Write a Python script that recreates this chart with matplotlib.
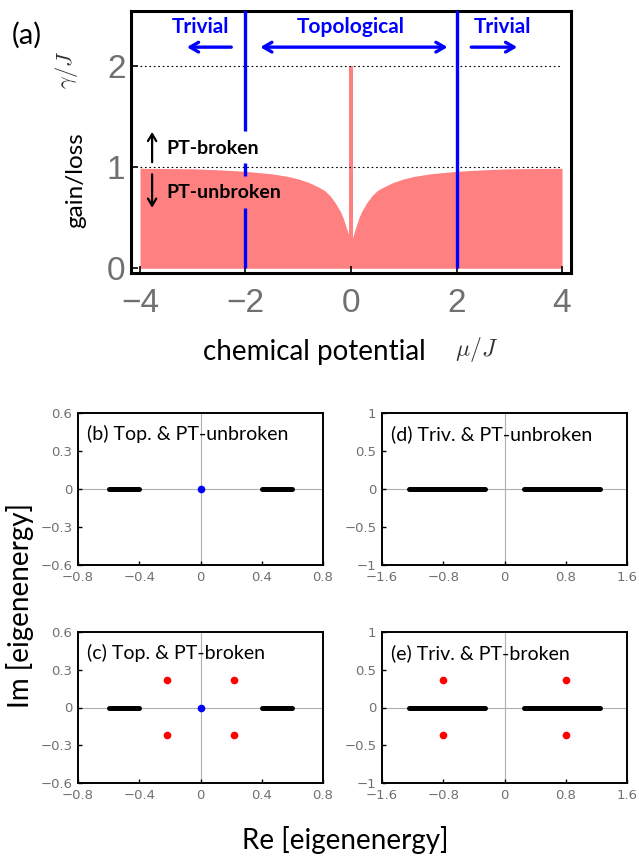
import matplotlib.pyplot as plt
import matplotlib as mpl

# ---- data ----
# PT-breaking threshold gamma_c(mu)
mu_edge = [-4.0, -3.0, -2.5, -2.0, -1.5, -1.2, -1.0, -0.8, -0.6, -0.5, -0.4,
           -0.3, -0.2, -0.15, -0.1, -0.05, -0.03, 0.0, 0.03, 0.05, 0.1, 0.15,
           0.2, 0.3, 0.4, 0.5, 0.6, 0.8, 1.0, 1.2, 1.5, 2.0, 2.5, 3.0, 4.0]
gamma_c = [0.99, 0.985, 0.975, 0.96, 0.935, 0.91, 0.885, 0.85, 0.80, 0.77, 0.72,
           0.65, 0.56, 0.50, 0.42, 0.34, 0.30, 0.27, 0.30, 0.34, 0.42, 0.50,
           0.56, 0.65, 0.72, 0.77, 0.80, 0.85, 0.885, 0.91, 0.935, 0.96, 0.975, 0.985, 0.99]
spike_mu = [0.0]
spike_gamma = [2.0]
phase_boundaries = [-2.0, 2.0]
ref_levels = [1.0, 2.0]

# eigenvalue spectra (b)-(e)
band_top = [0.40, 0.60]      # |Re E| range of bulk band, topological
band_triv = [0.26, 1.25]     # |Re E| range of bulk band, trivial
zero_re = [0.0]
zero_im = [0.0]
broken_top_re = [-0.22, 0.22, -0.22, 0.22]
broken_top_im = [0.22, 0.22, -0.22, -0.22]
broken_triv_re = [-0.80, 0.80, -0.80, 0.80]
broken_triv_im = [0.37, 0.37, -0.37, -0.37]

ticks_top_x = [-0.8, -0.4, 0, 0.4, 0.8]
ticks_top_y = [-0.6, -0.3, 0, 0.3, 0.6]
ticks_triv_x = [-1.6, -0.8, 0, 0.8, 1.6]
ticks_triv_y = [-1, -0.5, 0, 0.5, 1]

W, H = 639, 861
PINK = "#ff8080"
BLUE = "#0000ff"
GRAY = "#707070"
TEXT_FONT = ["Lato", "DejaVu Sans"]
NUM_FONT = ["Liberation Sans", "DejaVu Sans"]

mpl.rcParams["mathtext.fontset"] = "cm"
mpl.rcParams["font.family"] = NUM_FONT

fig = plt.figure(figsize=(W / 100, H / 100), dpi=100)


def px_axes(left, top, right, bottom):
    return fig.add_axes([left / W, 1 - bottom / H, (right - left) / W, (bottom - top) / H])


# ---- panel (a) ----
ax = px_axes(131, 11, 571, 273)
ax.fill_between(mu_edge, 0, gamma_c, color=PINK, lw=0, zorder=1)
ax.bar(spike_mu, spike_gamma, width=0.07, color=PINK, lw=0, zorder=1)
for lev in ref_levels:
    ax.hlines(lev, mu_edge[0], mu_edge[-1], colors="k", linestyles=(0, (1.5, 2.5)),
              lw=0.8, zorder=2)
# left boundary line is broken where the PT labels sit
seg_lo = [0, 0.91, 1.36]
seg_hi = [0.60, 1.04, 2.56]
ax.vlines([phase_boundaries[0]] * len(seg_lo), seg_lo, seg_hi, colors=BLUE, lw=2.4, zorder=3)
ax.vlines(phase_boundaries[1], 0, 2.56, colors=BLUE, lw=2.4, zorder=3)

ax.set_xlim(-4.17, 4.17)
ax.set_ylim(-0.047, 2.548)
ax.set_xticks([-4, -2, 0, 2, 4])
ax.set_yticks([0, 1, 2])
ax.tick_params(direction="in", length=5, width=1.2, labelsize=24, labelcolor=GRAY)
ax.tick_params(axis="x", pad=11)
ax.tick_params(axis="y", pad=4)
for s in ax.spines.values():
    s.set_linewidth(2.2)

arrow_kw = dict(arrowstyle="->,head_length=0.6,head_width=0.35", color=BLUE, lw=2.4,
                shrinkA=0, shrinkB=0)
ax.annotate("", xy=(-3.11, 2.19), xytext=(-2.27, 2.19), arrowprops=arrow_kw)
ax.annotate("", xy=(1.83, 2.19), xytext=(-1.72, 2.19),
            arrowprops=dict(arrow_kw, arrowstyle="<->,head_length=0.6,head_width=0.35"))
ax.annotate("", xy=(3.15, 2.19), xytext=(2.28, 2.19), arrowprops=arrow_kw)
for x, label in [(-2.86, "Trivial"), (0.0, "Topological"), (2.87, "Trivial")]:
    ax.text(x, 2.39, label, color=BLUE, fontsize=15, fontweight="bold",
            family=TEXT_FONT, ha="center", va="center")

blk_kw = dict(arrowstyle="->,head_length=0.5,head_width=0.3", color="k", lw=1.6,
              shrinkA=0, shrinkB=0)
ax.annotate("", xy=(-3.77, 1.35), xytext=(-3.77, 1.05), arrowprops=blk_kw)
ax.annotate("", xy=(-3.77, 0.60), xytext=(-3.77, 0.93), arrowprops=blk_kw)
ax.text(-3.50, 1.19, "PT-broken", fontsize=14, fontweight="bold", family=TEXT_FONT,
        ha="left", va="center")
ax.text(-3.50, 0.75, "PT-unbroken", fontsize=14, fontweight="bold", family=TEXT_FONT,
        ha="left", va="center")

fig.text(27 / W, 1 - 35 / H, "(a)", fontsize=21, family=TEXT_FONT, ha="center", va="center")
fig.text(76 / W, 1 - 180 / H, "gain/loss", fontsize=17.5, family=TEXT_FONT, rotation=90,
         ha="center", va="center")
fig.text(66 / W, 1 - 70 / H, r"$\gamma/J$", fontsize=16, color="#333333", rotation=90,
         ha="center", va="center")
fig.text(314 / W, 1 - 352 / H, "chemical potential", fontsize=20, family=TEXT_FONT,
         ha="center", va="center")
fig.text(477 / W, 1 - 350 / H, r"$\mu/J$", fontsize=17, color="#333333",
         ha="center", va="center")


# ---- panels (b)-(e) ----
def fmt(t):
    return "0" if t == 0 else f"{t:g}".replace("-", "\u2212")


def spectrum_panel(box, band, xticks, yticks, label, red_re=None, red_im=None, zero=True):
    a = px_axes(*box)
    a.axhline(0, color="#b0b0b0", lw=0.8, zorder=0)
    a.axvline(0, color="#b0b0b0", lw=0.8, zorder=0)
    for sign in (-1, 1):
        a.plot([sign * band[0], sign * band[1]], [0, 0], color="k", lw=3.6,
               solid_capstyle="round", zorder=2)
    if red_re is not None:
        a.plot(red_re, red_im, "o", color="#ff0000", ms=5.5, mew=0, zorder=3)
    if zero:
        a.plot(zero_re, zero_im, "o", color=BLUE, ms=5.5, mew=0, zorder=3)
    a.set_xlim(xticks[0], xticks[-1])
    a.set_ylim(yticks[0], yticks[-1])
    a.set_xticks(xticks)
    a.set_yticks(yticks)
    a.set_xticklabels([fmt(t) for t in xticks], family="DejaVu Sans")
    a.set_yticklabels([fmt(t) for t in yticks], family="DejaVu Sans")
    a.tick_params(direction="in", length=3, width=1, labelsize=9.5, labelcolor=GRAY)
    a.tick_params(axis="x", pad=4)
    a.tick_params(axis="y", pad=4)
    for s in a.spines.values():
        s.set_linewidth(1.4)
    a.text(0.038, 0.86, label, transform=a.transAxes, fontsize=14, family=TEXT_FONT,
           ha="left", va="center")
    return a


spectrum_panel((78, 413, 323, 565), band_top, ticks_top_x, ticks_top_y,
               "(b) Top. & PT-unbroken")
spectrum_panel((382, 413, 627, 565), band_triv, ticks_triv_x, ticks_triv_y,
               "(d) Triv. & PT-unbroken", zero=False)
spectrum_panel((78, 632, 323, 783), band_top, ticks_top_x, ticks_top_y,
               "(c) Top. & PT-broken", broken_top_re, broken_top_im)
spectrum_panel((382, 632, 627, 783), band_triv, ticks_triv_x, ticks_triv_y,
               "(e) Triv. & PT-broken", broken_triv_re, broken_triv_im, zero=False)

fig.text(20 / W, 1 - 606 / H, "Im [eigenenergy]", fontsize=20, family=TEXT_FONT,
         rotation=90, ha="center", va="center")
fig.text(345 / W, 1 - 840 / H, "Re [eigenenergy]", fontsize=20, family=TEXT_FONT,
         ha="center", va="center")

fig.savefig("out.png", dpi=100)
